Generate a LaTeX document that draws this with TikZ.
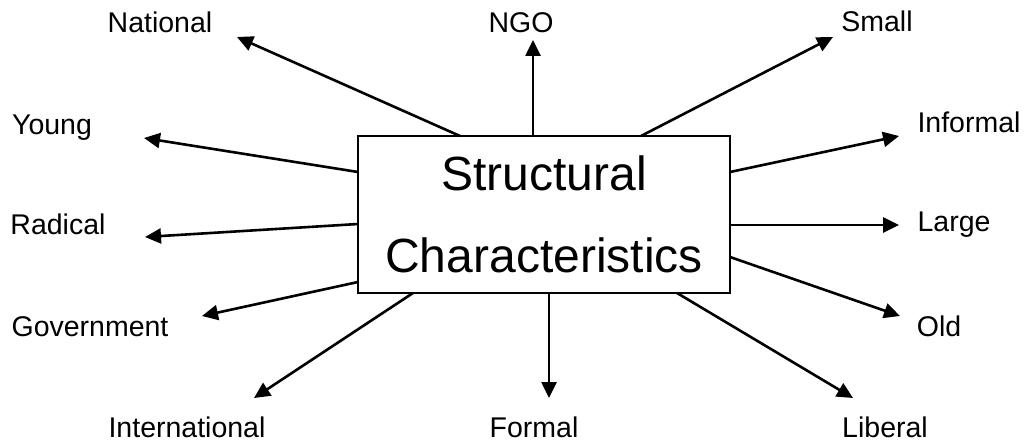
\documentclass[tikz,border=0pt]{standalone}
\usepackage{fontspec}
\setmainfont{Liberation Sans}
\usetikzlibrary{arrows.meta}
\tikzset{
  conn/.style={line width=2.6pt, -{Triangle[length=16pt,width=15pt]}},
  lbl/.style={anchor=base, inner sep=0pt, font=\fontsize{28.5}{34}\selectfont},
  mainbox/.style={draw, line width=2.6pt, minimum width=372pt, minimum height=157pt, inner sep=0pt, align=center, font=\fontsize{48}{82}\selectfont}
}
\begin{document}
\begin{tikzpicture}[x=1pt,y=-1pt]
\useasboundingbox (0,0) rectangle (1032,446);
\node[mainbox] (box) at (544,214.5) {Structural\\Characteristics};
% labels
\node[lbl] (national) at (160,33) {National};
\node[lbl] (ngo) at (521,33) {NGO};
\node[lbl] (small) at (877,32) {Small};
\node[lbl] (young) at (52,135) {Young};
\node[lbl] (informal) at (969,133) {Informal};
\node[lbl] (radical) at (58,235) {Radical};
\node[lbl] (large) at (954,231) {Large};
\node[lbl] (government) at (90,336) {Government};
\node[lbl] (old) at (939,336) {Old};
\node[lbl] (international) at (187,437) {International};
\node[lbl] (formal) at (534,437) {Formal};
\node[lbl] (liberal) at (885,437) {Liberal};
% start points on the box border
\coordinate (sNat) at (460,136);
\coordinate (sNgo) at (533,136);
\coordinate (sSma) at (641,136);
\coordinate (sYou) at (358,172);
\coordinate (sInf) at (730,172);
\coordinate (sRad) at (358,224);
\coordinate (sLar) at (730,225);
\coordinate (sGov) at (358,282);
\coordinate (sOld) at (730,257);
\coordinate (sInt) at (413,293);
\coordinate (sFor) at (549,293);
\coordinate (sLib) at (677,293);
% arrow tips
\coordinate (tNat) at (237,37);
\coordinate (tNgo) at (533,40);
\coordinate (tSma) at (833,37);
\coordinate (tYou) at (144,138);
\coordinate (tInf) at (899,136);
\coordinate (tRad) at (145,237);
\coordinate (tLar) at (899,225);
\coordinate (tGov) at (202,316);
\coordinate (tOld) at (900,316);
\coordinate (tInt) at (254,398);
\coordinate (tFor) at (549,398);
\coordinate (tLib) at (853,398);
\foreach \n in {Nat,Ngo,Sma,You,Inf,Rad,Lar,Gov,Old,Int,For,Lib}
  \draw[conn] (s\n) -- (t\n);
\end{tikzpicture}
\end{document}
